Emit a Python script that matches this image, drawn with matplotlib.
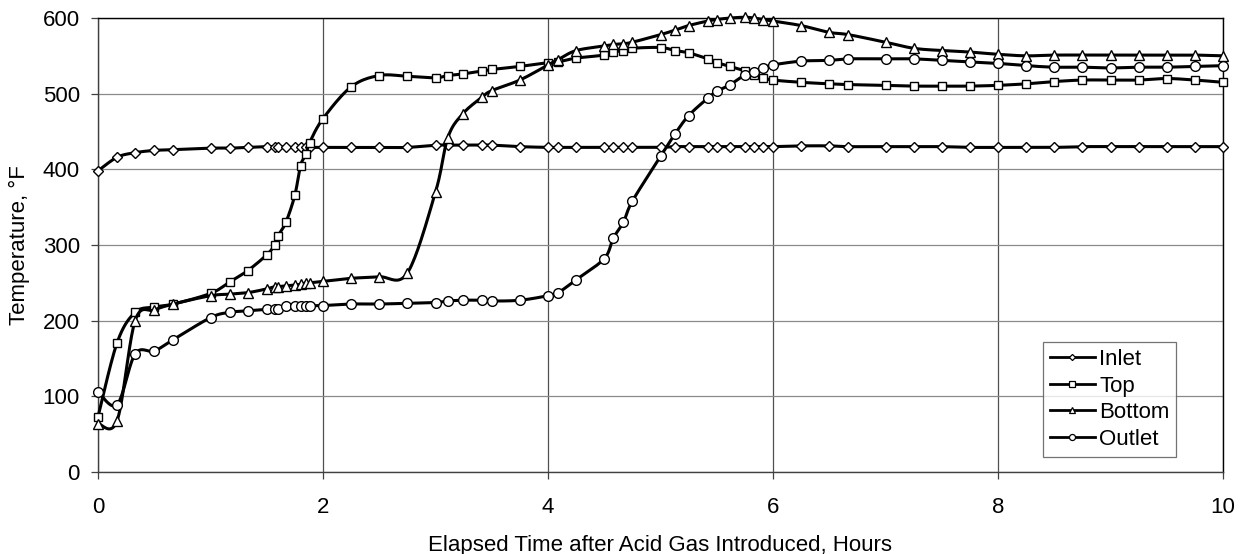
import numpy as np
import matplotlib
matplotlib.use("Agg")
import matplotlib.pyplot as plt
from matplotlib.lines import Line2D

# ---------------- data ----------------
hours = [0, 0.17, 0.33, 0.5, 0.67, 1.0, 1.17, 1.33, 1.5, 1.57, 1.6, 1.67, 1.75, 1.8, 1.85, 1.88,
         2.0, 2.25, 2.5, 2.75, 3.0, 3.11, 3.24, 3.41, 3.5, 3.75, 4.0, 4.09, 4.25, 4.5, 4.58, 4.67,
         4.75, 5.0, 5.13, 5.25, 5.42, 5.5, 5.62, 5.75, 5.83, 5.91, 6.0, 6.25, 6.5, 6.67, 7.0, 7.25,
         7.5, 7.75, 8.0, 8.25, 8.5, 8.75, 9.0, 9.25, 9.5, 9.75, 10.0]

inlet = [398, 416, 422, 425, 426, 428, 428, 429, 430, 430, 430, 429, 429, 429, 429, 429,
         429, 429, 429, 429, 432, 432, 432, 432, 432, 430, 429, 429, 429, 429, 429, 429,
         429, 429, 430, 430, 430, 430, 430, 430, 430, 430, 430, 431, 431, 430, 430, 430,
         430, 429, 429, 429, 429, 430, 430, 430, 430, 430, 430]

top = [73, 171, 211, 218, 222, 236, 251, 266, 287, 300, 312, 330, 366, 405, 420, 435,
       467, 509, 524, 523, 521, 524, 526, 530, 532, 536, 541, 542, 547, 551, 555, 557,
       560, 561, 557, 554, 546, 541, 536, 530, 525, 521, 518, 515, 513, 512, 511, 510,
       510, 510, 511, 513, 516, 518, 518, 518, 520, 518, 515]

bottom = [64, 68, 200, 214, 222, 233, 235, 237, 242, 245, 245, 246, 247, 248, 250, 250,
          252, 256, 258, 263, 370, 442, 473, 495, 504, 518, 538, 545, 557, 563, 565, 566,
          568, 578, 584, 590, 596, 598, 600, 601, 600, 598, 596, 590, 581, 578, 568, 560,
          557, 555, 552, 550, 551, 551, 551, 551, 551, 551, 550]

outlet = [106, 89, 156, 160, 175, 204, 211, 213, 215, 215, 216, 219, 220, 220, 220, 220,
          220, 222, 222, 223, 224, 226, 227, 227, 226, 227, 233, 237, 254, 282, 309, 330,
          358, 417, 447, 471, 494, 503, 512, 525, 529, 534, 538, 543, 544, 546, 546, 546,
          544, 542, 540, 537, 535, 535, 534, 535, 535, 536, 537]

series_names = ["Inlet", "Top", "Bottom", "Outlet"]
x_ticks = [0, 2, 4, 6, 8, 10]
y_ticks = [0, 100, 200, 300, 400, 500, 600]


def smooth(x, y, n=20):
    """Excel-like smoothed line: cubic Bezier with Catmull-Rom control points."""
    p = np.column_stack([x, y]).astype(float)
    pts = [p[0:1]]
    m = len(p)
    s = np.linspace(0, 1, n + 1)[1:][:, None]
    for i in range(m - 1):
        p0 = p[i - 1] if i > 0 else p[i]
        p1 = p[i]
        p2 = p[i + 1]
        p3 = p[i + 2] if i + 2 < m else p[i + 1]
        c1 = p1 + (p2 - p0) / 6.0
        c2 = p2 - (p3 - p1) / 6.0
        seg = ((1 - s) ** 3) * p1 + 3 * ((1 - s) ** 2) * s * c1 + 3 * (1 - s) * s ** 2 * c2 + s ** 3 * p2
        pts.append(seg)
    out = np.vstack(pts)
    return out[:, 0], out[:, 1]


plt.rcParams['font.family'] = ['Liberation Sans', 'DejaVu Sans']

fig = plt.figure(figsize=(12.45, 5.54), dpi=100)
ax = fig.add_axes([98 / 1245, 1 - 472 / 554, 1125 / 1245, 454 / 554])

styles = {
    "Inlet": dict(marker='D', ms=5.0),
    "Top": dict(marker='s', ms=6.4),
    "Bottom": dict(marker='^', ms=7.0),
    "Outlet": dict(marker='o', ms=7.0),
}
data = {"Inlet": inlet, "Top": top, "Bottom": bottom, "Outlet": outlet}

handles = []
for k, name in enumerate(series_names):
    vals = data[name]
    xs, ys = smooth(hours, vals)
    ax.plot(xs, ys, color='black', lw=2.2, zorder=3 + k, clip_on=False, solid_capstyle='round')
    ax.plot(hours, vals, linestyle='none', marker=styles[name]['marker'], ms=styles[name]['ms'],
            mfc='white', mec='black', mew=1.0, zorder=3 + k, clip_on=False)
    handles.append(Line2D([], [], color='black', lw=2.0, marker=styles[name]['marker'],
                          ms=styles[name]['ms'] * 0.62, mfc='white', mec='black', mew=0.9,
                          label=name))

ax.set_xlim(0, 10)
ax.set_ylim(0, 600)
ax.set_xticks(x_ticks)
ax.set_yticks(y_ticks)
ax.set_xticklabels([str(v) for v in x_ticks])
ax.set_yticklabels([str(v) for v in y_ticks])

ax.xaxis.grid(True, color='#505050', lw=0.9)
ax.yaxis.grid(True, color='#8a8a8a', lw=0.9)
ax.set_axisbelow(True)

for sp in ax.spines.values():
    sp.set_color('black')
    sp.set_linewidth(1.0)
ax.spines['left'].set_color('#404040')
ax.spines['bottom'].set_color('#404040')

ax.tick_params(axis='both', direction='out', length=5, width=0.9, color='#404040',
               labelsize=16)
ax.tick_params(axis='x', pad=13)
ax.tick_params(axis='y', pad=8)

ax.set_xlabel("Elapsed Time after Acid Gas Introduced, Hours", fontsize=16, labelpad=12)
ax.set_ylabel("Temperature, °F", fontsize=16, labelpad=9)

leg = fig.legend(handles=handles, loc='upper left',
                 bbox_to_anchor=(1043 / 1245, 1 - 342 / 554),
                 fontsize=16, frameon=True, fancybox=False, edgecolor='#505050',
                 handlelength=2.0, handletextpad=0.2, labelspacing=0.25,
                 borderpad=0.32, borderaxespad=0.0)
leg.get_frame().set_linewidth(0.9)
leg.set_zorder(20)

fig.savefig("out.png", dpi=100, facecolor='white')
